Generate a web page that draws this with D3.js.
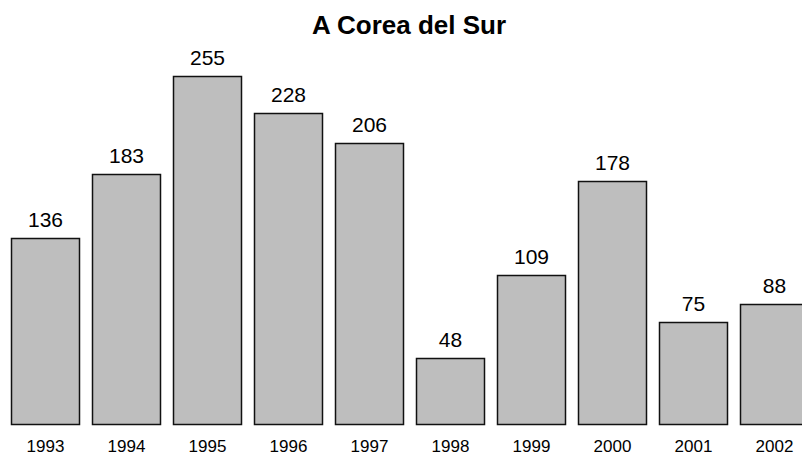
<!DOCTYPE html>
<html>
<head>
<meta charset="utf-8">
<script src="https://cdn.jsdelivr.net/npm/d3@7"></script>
<style>
  body { margin: 0; background: #fff; }
  svg { display: block; font-family: "Liberation Sans", Arial, sans-serif; }
</style>
</head>
<body>
<script>
let years = ['1993', '1994', '1995', '1996', '1997', '1998', '1999', '2000', '2001', '2002'];
let values = [136, 183, 255, 228, 206, 48, 109, 178, 75, 88];
let title = 'A Corea del Sur';

let width = 802;
let height = 456;

let data = years.map((y, i) => { return { year: y, value: values[i] }; });

let svg = d3.select('body')
  .append('svg')
  .attr('width', width)
  .attr('height', height);

let pad = 12 / 81;
let x = d3.scaleBand()
  .domain(years)
  .range([5, 815])
  .paddingInner(pad)
  .paddingOuter(pad / 2);

let y = d3.scaleLinear()
  .domain([0, 255])
  .range([424, 76]);

svg.append('text')
  .attr('x', 409)
  .attr('y', 34)
  .attr('text-anchor', 'middle')
  .attr('font-size', 26)
  .attr('font-weight', 'bold')
  .text(title);

svg.selectAll('rect')
  .data(data)
  .enter()
  .append('rect')
  .attr('x', (d) => { return x(d.year) + 0.5; })
  .attr('y', (d) => { return Math.round(y(d.value)) + 0.5; })
  .attr('width', x.bandwidth() - 1)
  .attr('height', (d) => { return y(0) - Math.round(y(d.value)); })
  .attr('fill', '#bebebe')
  .attr('stroke', '#111')
  .attr('stroke-width', 1.5);

svg.selectAll('.val')
  .data(data)
  .enter()
  .append('text')
  .attr('class', 'val')
  .attr('x', (d) => { return x(d.year) + x.bandwidth() / 2; })
  .attr('y', (d) => { return y(d.value) - 11; })
  .attr('text-anchor', 'middle')
  .attr('font-size', 21)
  .text((d) => { return d.value; });

svg.selectAll('.yr')
  .data(data)
  .enter()
  .append('text')
  .attr('class', 'yr')
  .attr('x', (d) => { return x(d.year) + x.bandwidth() / 2; })
  .attr('y', 452)
  .attr('text-anchor', 'middle')
  .attr('font-size', 17)
  .text((d) => { return d.year; });
</script>
</body>
</html>
